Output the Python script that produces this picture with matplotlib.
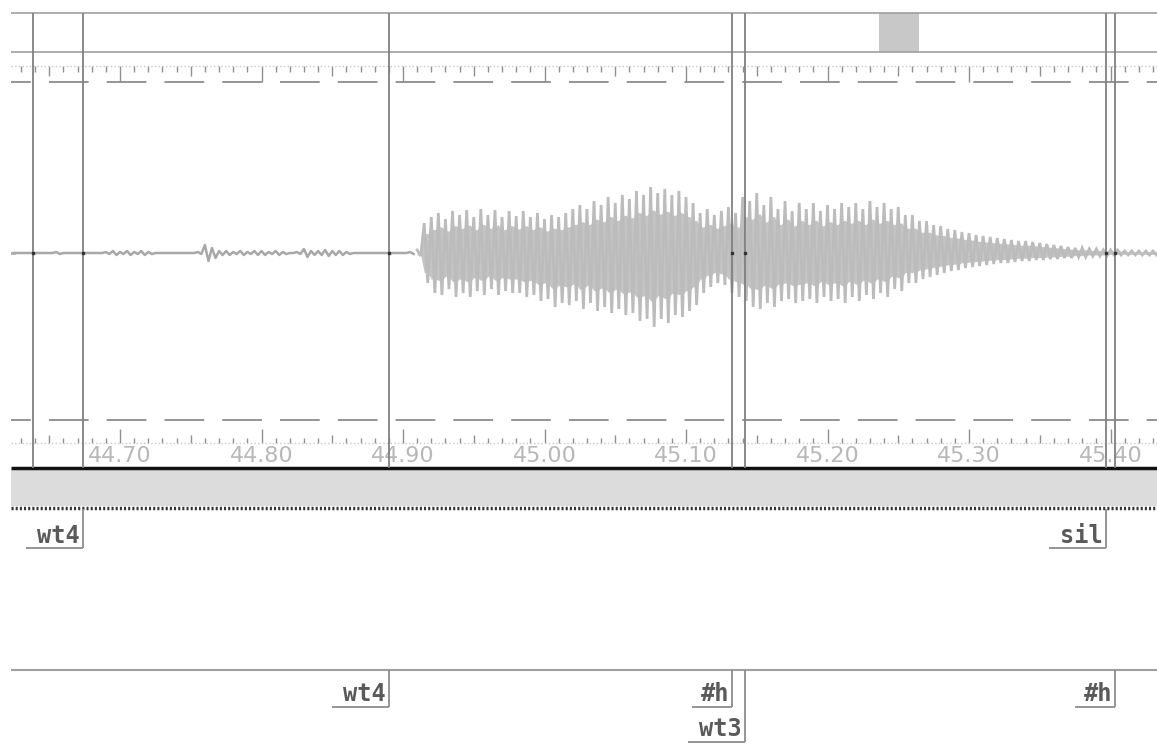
import numpy as np
import matplotlib
matplotlib.use('Agg')
import matplotlib.pyplot as plt

# ---------------- datos ----------------
TICK_TIMES = [44.70, 44.80, 44.90, 45.00, 45.10, 45.20, 45.30, 45.40]
TICK_LABELS = ['44.70', '44.80', '44.90', '45.00', '45.10', '45.20', '45.30', '45.40']

# marcas de frontera que cruzan la forma de onda (s)
BOUNDARY_TIMES = [44.6385, 44.6739, 44.8901, 45.1325, 45.1417, 45.3968, 45.4032]

# nivel 1 de etiquetas
TIER1_LABELS = ['wt4', 'sil']
TIER1_TIMES = [44.6739, 45.3968]

# nivel 2 de etiquetas (fila 0 / fila 1)
TIER2_LABELS = ['wt4', '#h', 'wt3', '#h']
TIER2_TIMES = [44.8901, 45.1325, 45.1417, 45.4032]
TIER2_ROWS = [0, 0, 1, 0]

# zona visible marcada arriba (s)
VIEW_START, VIEW_END = 45.2364, 45.2647

STEP = 0.005
# tramo casi silencioso: amplitud (px)
QUIET_START = 44.625
quiet_amp = [0, 0, 0, 0, 0, 0, 1, 0, 0, 0,
             0, 0, 0, 1, 2, 1, 2, 1, 2, 1,
             0, 0, 0, 0, 0, 0, 1, 8, 5, 2,
             2, 1, 2, 1, 2, 2, 1, 2, 1, 0,
             1, 4, 2, 2, 3, 2, 2, 1, 0, 0,
             0, 0, 0, 0, 0, 0, 1]

# tramo sonoro: envolvente superior / inferior (px)
BURST_START = 44.910
burst_top = [3, 30, 36, 40, 34, 42, 38, 43, 36, 44,
             38, 43, 36, 42, 37, 42, 36, 40, 34, 38,
             36, 40, 44, 48, 44, 52, 48, 56, 50, 58,
             54, 62, 58, 66, 60, 64, 58, 62, 56, 50,
             40, 44, 38, 42, 46, 40, 56, 52, 60, 48,
             56, 44, 52, 42, 50, 44, 50, 42, 48, 44,
             50, 46, 50, 44, 52, 46, 50, 44, 46, 38,
             38, 32, 32, 28, 27, 24, 23, 21, 20, 18,
             17, 16, 15, 14, 13, 12, 12, 11, 10, 9,
             8, 7, 6, 5, 5, 4, 4, 3, 3, 3,
             2, 2, 2, 2, 2, 2]
burst_bottom = [-3, -30, -40, -42, -36, -44, -40, -44, -38, -42,
                -36, -42, -38, -40, -40, -44, -42, -48, -46, -54,
                -50, -52, -48, -56, -50, -58, -54, -60, -56, -62,
                -60, -68, -66, -74, -66, -70, -62, -64, -58, -52,
                -40, -34, -30, -32, -40, -44, -48, -54, -56, -50,
                -54, -48, -46, -50, -48, -46, -50, -44, -48, -46,
                -50, -44, -48, -42, -46, -40, -44, -36, -38, -30,
                -30, -26, -24, -22, -20, -18, -17, -15, -14, -13,
                -12, -11, -10, -10, -9, -8, -8, -7, -7, -6,
                -6, -5, -5, -4, -4, -3, -3, -3, -2, -2,
                -2, -2, -2, -2, -2, -2]

# ---------------- maquetación ----------------
W, H = 1157, 745
PX_PER_S = 1415.0


def px_to_t(x):
    return 44.70 + (x - 120) / PX_PER_S


T_LEFT, T_RIGHT = px_to_t(11), px_to_t(W)
LINE_C = '#808080'
WAVE_C = '#bcbcbc'

fig = plt.figure(figsize=(W / 100, H / 100), dpi=100)
fig.patch.set_facecolor('white')

# ejes de fondo: x en segundos, y en filas de pixel
ax = fig.add_axes([0, 0, 1, 1])
ax.set_xlim(px_to_t(0), T_RIGHT)
ax.set_ylim(H, 0)
ax.axis('off')

# marco superior y marca de zona visible
ax.hlines([13, 52], T_LEFT, T_RIGHT, color='#a0a0a0', lw=1.2)
ax.fill_between([VIEW_START, VIEW_END], 13, 52, color='#c8c8c8', lw=0)

# reglas
ticks_fine = np.round(np.arange(44.63, 45.435, 0.01), 2)
for t in ticks_fine:
    cent = int(round(t * 100))
    if cent % 10 == 0:
        ln_top, ln_bot = 16, 14
    elif cent % 5 == 0:
        ln_top, ln_bot = 10, 8
    else:
        ln_top, ln_bot = 6, 5
    ax.vlines(t, 66, 66 + ln_top, color='#909090', lw=1)
    ax.vlines(t, 443 - ln_bot, 443, color='#909090', lw=1)
ax.hlines([66, 443], T_LEFT, T_RIGHT, color='#c8c8c8', lw=1, linestyles=':')

# líneas discontinuas de recorte
for yy in (82, 420):
    ax.hlines(yy, T_LEFT, T_RIGHT, color='#8c8c8c', lw=1.3,
              linestyles=[(11, (22, 10))])

for t, lab in zip(TICK_TIMES, TICK_LABELS):
    ax.text(t, 456, lab, ha='center', va='center', fontsize=16,
            color='#b8b8b8', family='DejaVu Sans')

# banda inferior
ax.hlines(468, T_LEFT, T_RIGHT, color='#111111', lw=2.5)
ax.fill_between([T_LEFT, T_RIGHT], 470, 506, color='#dcdcdc', lw=0)
ax.hlines(507.5, T_LEFT, T_RIGHT, color='#333333', lw=2.5, linestyles=(0, (0.6, 0.6)))

# nivel 2: línea superior
ax.hlines(670, T_LEFT, T_RIGHT, color='#a0a0a0', lw=1.5)

CHAR_PX = 17


def label_box(t, label, y_top, y_line, y_text):
    x_right = t
    x_left = t - (len(label) * CHAR_PX + 6) / PX_PER_S
    ax.vlines(x_right, y_top, y_line, color='#8c8c8c', lw=1.3)
    ax.hlines(y_line, x_left, x_right, color='#8c8c8c', lw=1.3)
    ax.text(t - 3 / PX_PER_S, y_text, label, ha='right', va='baseline',
            fontsize=17, fontweight='bold', color='#5a5a5a',
            family='DejaVu Sans Mono')


for t, lab in zip(TIER1_TIMES, TIER1_LABELS):
    label_box(t, lab, 509, 548, 543)

for t, lab, row in zip(TIER2_TIMES, TIER2_LABELS, TIER2_ROWS):
    if row == 0:
        label_box(t, lab, 670, 707, 701)
    else:
        label_box(t, lab, 670, 742, 736)

# ---------------- forma de onda ----------------
axw = fig.add_axes([11 / W, (H - 468) / H, (W - 11) / W, (468 - 13) / H])
axw.set_xlim(T_LEFT, T_RIGHT)
axw.set_ylim(-215, 240)
axw.axis('off')
axw.patch.set_alpha(0)

quiet_t = QUIET_START + STEP * np.arange(len(quiet_amp))
qx = np.column_stack([quiet_t, quiet_t + STEP / 2]).ravel()
qy = np.column_stack([np.array(quiet_amp), -np.array(quiet_amp)]).ravel()

burst_t = BURST_START + STEP * np.arange(len(burst_top))
bx = np.column_stack([burst_t, burst_t + STEP / 2]).ravel()
by = np.column_stack([burst_top, burst_bottom]).ravel()

# cuerpo de la señal (parte densa) y trazo oscilante encima
body_top = np.repeat(np.array(burst_top) * 0.65, 2)
body_bot = np.repeat(np.array(burst_bottom) * 0.65, 2)
axw.fill_between(bx, body_top, body_bot, color='#c4c4c4', lw=0)
axw.plot([T_LEFT, QUIET_START], [0, 0], color='#a8a8a8', lw=1.8)
axw.plot(qx, qy, color='#a8a8a8', lw=1.8)
axw.plot(bx, by, color=WAVE_C, lw=2.0, solid_joinstyle='miter')

for t in BOUNDARY_TIMES:
    axw.axvline(t, color=LINE_C, lw=1.3)
    axw.plot(t, 0, 's', ms=2, color='#333333')

fig.savefig('out.png', dpi=100, facecolor='white')
